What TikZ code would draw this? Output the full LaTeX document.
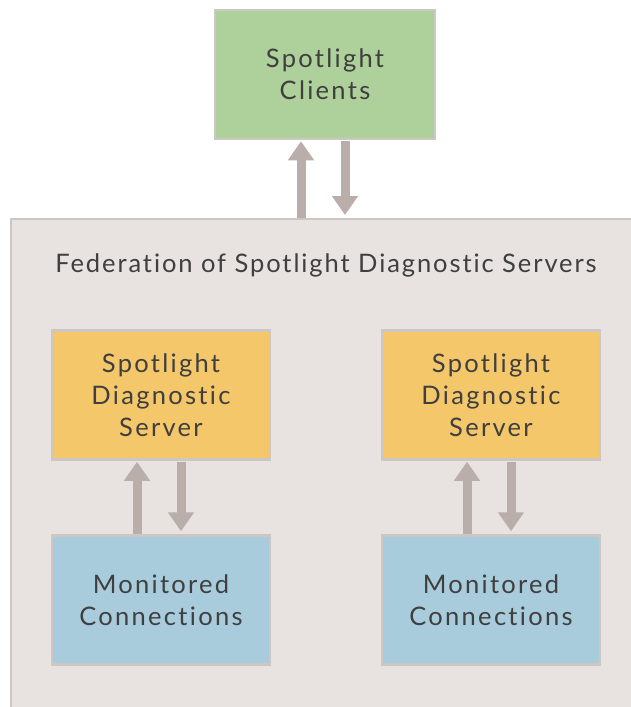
\documentclass[tikz,border=0pt]{standalone}
\usepackage{fontspec}
\setmainfont[LetterSpace=9,Ligatures={NoCommon}]{Lato}
\usetikzlibrary{arrows.meta,calc}
\definecolor{cgreen}{HTML}{AED09A}
\definecolor{corange}{HTML}{F5C76B}
\definecolor{cblue}{HTML}{A8CCDC}
\definecolor{cfed}{HTML}{E8E3E0}
\definecolor{cborder}{HTML}{CDC6C3}
\definecolor{carrow}{HTML}{B9AEAA}
\definecolor{ctext}{HTML}{3F3F3F}
\tikzset{
  box/.style={draw=cborder, line width=2.5pt, minimum width=218pt, minimum height=129pt,
    inner sep=0pt, align=center, text=ctext, font=\fontsize{25.5}{32}\selectfont},
  flow/.style={draw=carrow, line width=9pt, -{Triangle[width=25pt,length=19pt]}},
}
\begin{document}
\begin{tikzpicture}[x=1pt,y=-1pt]
\useasboundingbox (0,0) rectangle (631,707);
\node[draw=cborder, fill=cfed, line width=2pt, minimum width=640pt, minimum height=500pt, anchor=north west, inner sep=0pt] (fed) at (10,218) {};
\node[text=ctext, font=\fontsize{25.5}{32}\selectfont\addfontfeature{LetterSpace=7.5}, anchor=center, inner sep=0pt] (title) at (326,265) {Federation of Spotlight Diagnostic Servers};
\node[box, fill=cgreen, minimum width=220pt] (clients) at (325,74.5) {Spotlight\\Clients};
\node[box, fill=corange] (srvL) at (161,395) {Spotlight\\Diagnostic\\Server};
\node[box, fill=cblue] (monL) at (161,600) {Monitored\\Connections};
\node[box, fill=corange] (srvR) at (491,395) {Spotlight\\Diagnostic\\Server};
\node[box, fill=cblue] (monR) at (491,600) {Monitored\\Connections};
% anchor points for the arrows
\coordinate (cU) at ($(clients.south)+(-24,1)$);
\coordinate (cD) at ($(clients.south)+(20,1)$);
\coordinate (lU) at ($(srvL.south)+(-24,1)$);
\coordinate (lD) at ($(srvL.south)+(20,1)$);
\coordinate (rU) at ($(srvR.south)+(-24,1)$);
\coordinate (rD) at ($(srvR.south)+(20,1)$);
% top arrows
\draw[flow] (cU |- fed.north) -- (cU);
\draw[flow] (cD) -- ($(cD |- fed.north)+(0,-3)$);
% left arrows
\draw[flow] (lU |- monL.north) -- (lU);
\draw[flow] (lD) -- ($(lD |- monL.north)+(0,-3)$);
% right arrows
\draw[flow] (rU |- monR.north) -- (rU);
\draw[flow] (rD) -- ($(rD |- monR.north)+(0,-3)$);
\end{tikzpicture}
\end{document}
